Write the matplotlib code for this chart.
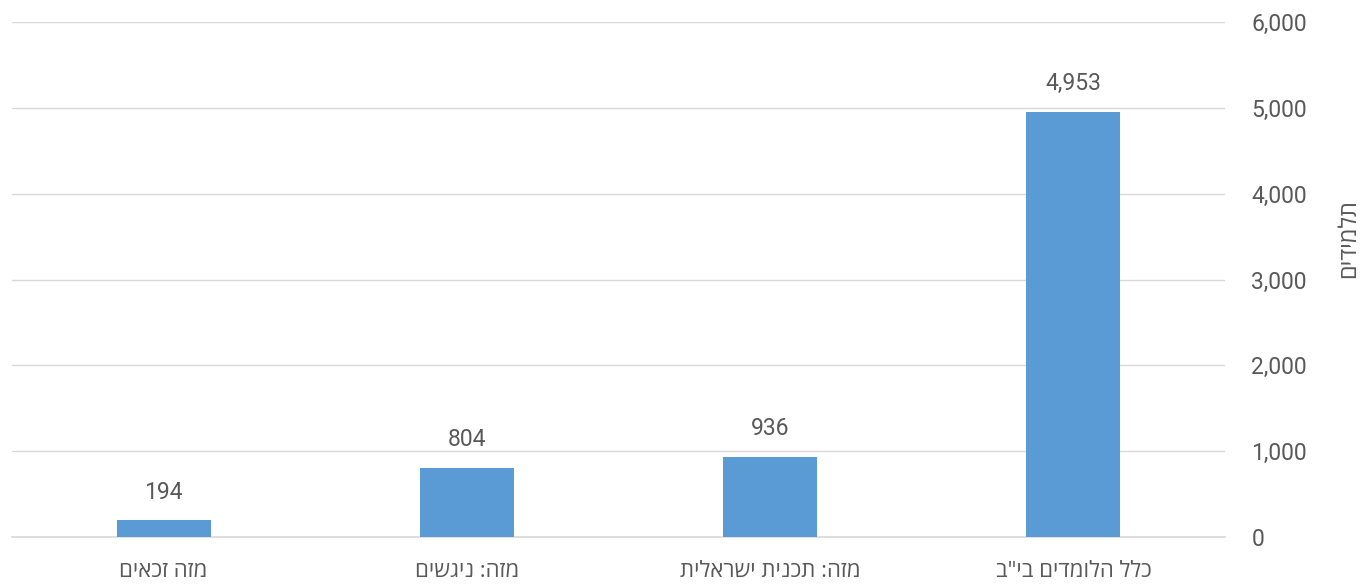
import matplotlib.pyplot as plt
from matplotlib.ticker import FuncFormatter

# students by category (logical RTL order, first item drawn on the right)
categories = ['כלל הלומדים בי"ב', 'מזה: תכנית ישראלית', 'מזה: ניגשים', 'מזה זכאים']
students = [4953, 936, 804, 194]
y_ticks = [0, 1000, 2000, 3000, 4000, 5000, 6000]
y_title = 'תלמידים'

BAR = '#5B9BD5'
TXT = '#595959'
GRID = '#D9D9D9'
NUM_FONT = ['Roboto', 'DejaVu Sans']
HEB_FONT = ['Open Sans', 'Liberation Sans', 'DejaVu Sans']


def rtl(s):
    # matplotlib has no bidi support, so flip hebrew strings for display
    return s[::-1]


fig = plt.figure(figsize=(13.67, 5.86), dpi=100)
ax = fig.add_axes([12 / 1367, 1 - 537 / 586, (1225 - 12) / 1367, (537 - 22) / 586])

x = list(range(len(categories)))
ax.bar(x, students, width=0.31, color=BAR, zorder=3)

for xi, v in zip(x, students):
    ax.annotate(f'{v:,}', xy=(xi, v), xytext=(0, 12), textcoords='offset points',
                ha='center', va='bottom', fontsize=16.5, color=TXT, family=NUM_FONT)

ax.set_xlim(3.5, -0.5)
ax.set_ylim(0, 6000)
ax.set_xticks(x)
ax.set_xticklabels([rtl(c) for c in categories], fontsize=16, color=TXT, family=HEB_FONT)
ax.set_yticks(y_ticks)
ax.yaxis.set_major_formatter(FuncFormatter(lambda v, p: f'{int(v):,}'))
ax.yaxis.tick_right()
for lbl in ax.get_yticklabels():
    lbl.set_family(NUM_FONT)
    lbl.set_fontsize(16.5)
    lbl.set_color(TXT)
ax.tick_params(axis='y', length=0, pad=19)
ax.tick_params(axis='x', length=0, pad=17)

ax.grid(axis='y', color=GRID, linewidth=1, zorder=0)
for side in ['top', 'left', 'right']:
    ax.spines[side].set_visible(False)
ax.spines['bottom'].set_color(GRID)
ax.spines['bottom'].set_linewidth(1.2)

fig.text(1349 / 1367, 1 - 239 / 586, rtl(y_title), rotation=90, ha='center', va='center',
         fontsize=17, color=TXT, family=HEB_FONT)

plt.savefig('out.png', dpi=100)
